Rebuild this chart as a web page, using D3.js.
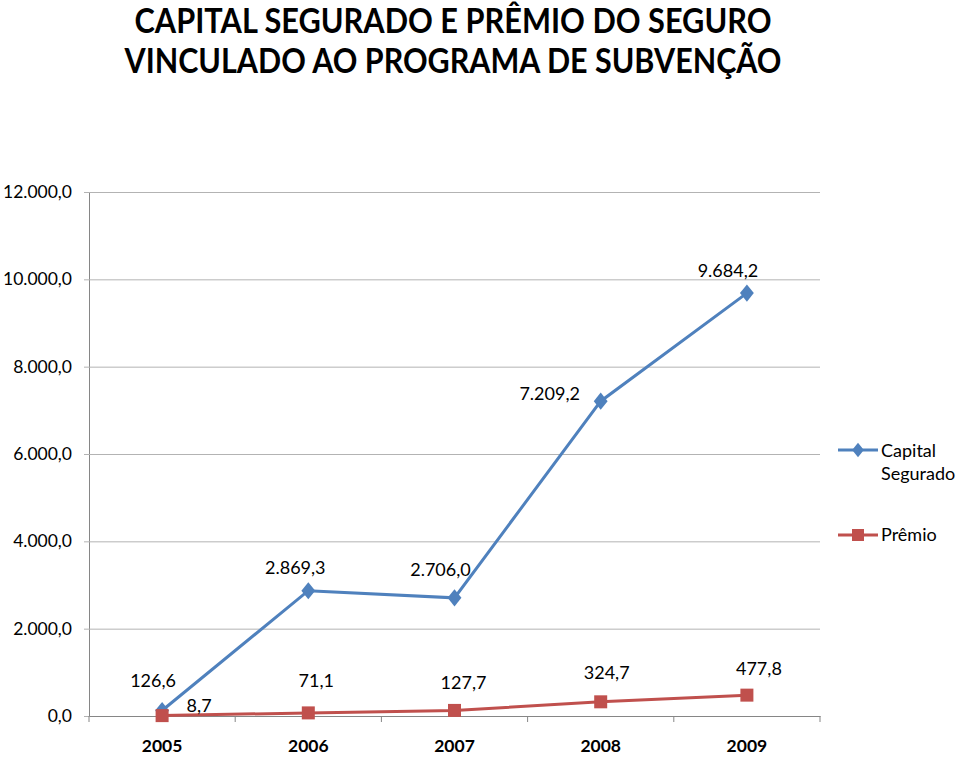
<!DOCTYPE html>
<html>
<head>
<meta charset="utf-8">
<script src="https://cdnjs.cloudflare.com/ajax/libs/d3/7.8.5/d3.min.js"></script>
<style>
  body { margin: 0; background: #fff; }
  text { font-family: Lato, "Open Sans", sans-serif; fill: #000; }
</style>
</head>
<body>
<div id="container"></div>
<script>
let years = ["2005", "2006", "2007", "2008", "2009"];
let capital = [126.6, 2869.3, 2706.0, 7209.2, 9684.2];
let premio = [8.7, 71.1, 127.7, 324.7, 477.8];
let yTicks = [0, 2000, 4000, 6000, 8000, 10000, 12000];
let seriesNames = ["Capital Segurado", "Prêmio"];

// label nudges (px) to mimic the hand-placed labels
let capOffsets = [[-9, -30], [-13, -23], [-14, -28], [-51, -7], [-19, -22]];
let premOffsets = [[37, -10], [8, -32], [9, -28], [6, -29], [12, -26]];

let W = 960, H = 757;
let M = { left: 89, right: 820, top: 192, bottom: 716 };
let BLUE = "#4F81BD", RED = "#C0504D";

let fmt = v => {
    let s = d3.format(",.1f")(v);
    return s.replace(/,/g, "#").replace(".", ",").replace(/#/g, ".");
};

let svg = d3.select("#container").append("svg")
    .attr("width", W).attr("height", H);

// title
let title = svg.append("text")
    .attr("text-anchor", "middle")
    .style("font-weight", "bold")
    .style("font-size", "34px");
title.append("tspan").attr("x", 453).attr("y", 33)
    .attr("textLength", 637).attr("lengthAdjust", "spacingAndGlyphs")
    .text("CAPITAL SEGURADO E PRÊMIO DO SEGURO");
title.append("tspan").attr("x", 453).attr("y", 73)
    .attr("textLength", 657).attr("lengthAdjust", "spacingAndGlyphs")
    .text("VINCULADO AO PROGRAMA DE SUBVENÇÃO");

let x = d3.scaleBand().domain(years).range([M.left, M.right]);
let y = d3.scaleLinear().domain([0, 12000]).range([M.bottom, M.top]);
let cx = d => x(d) + x.bandwidth() / 2;

// gridlines + y axis
let yAxis = d3.axisLeft(y).tickValues(yTicks).tickFormat(fmt)
    .tickSize(-(M.right - M.left)).tickSizeOuter(0).tickPadding(12);
let gy = svg.append("g").attr("transform", `translate(${M.left},0)`).call(yAxis);
gy.select(".domain").attr("stroke", "#868686");
gy.selectAll(".tick line").attr("stroke", "#B3B3B3").attr("x1", -5);
gy.selectAll(".tick text").style("font-size", "17.5px")
    .attr("fill", "#000").attr("x", -17);

// x axis
let xAxis = d3.axisBottom(x).tickSize(0).tickPadding(24);
let gx = svg.append("g").attr("transform", `translate(0,${M.bottom})`).call(xAxis);
gx.select(".domain").attr("stroke", "#868686");
gx.selectAll(".tick text").style("font-size", "17.5px").style("font-weight", "bold").attr("fill", "#000");
let bounds = years.map(d => x(d)).concat([M.right]);
svg.append("g").selectAll("line").data(bounds).join("line")
    .attr("x1", d => d).attr("x2", d => d)
    .attr("y1", M.bottom).attr("y2", M.bottom + 6)
    .attr("stroke", "#868686");

let line = d3.line().x((d, i) => cx(years[i])).y(d => y(d));

// series
svg.append("path").datum(capital).attr("d", line)
    .attr("fill", "none").attr("stroke", BLUE).attr("stroke-width", 3);
svg.append("path").datum(premio).attr("d", line)
    .attr("fill", "none").attr("stroke", RED).attr("stroke-width", 3);

let diamond = d3.symbol().type(d3.symbolDiamond).size(85);
svg.append("g").selectAll("path").data(capital).join("path")
    .attr("d", diamond)
    .attr("transform", (d, i) => `translate(${cx(years[i])},${y(d)}) scale(1.4,1)`)
    .attr("fill", BLUE);
svg.append("g").selectAll("rect").data(premio).join("rect")
    .attr("x", (d, i) => cx(years[i]) - 6.5).attr("y", d => y(d) - 6.5)
    .attr("width", 13).attr("height", 13).attr("fill", RED);

// data labels
svg.append("g").selectAll("text").data(capital).join("text")
    .attr("x", (d, i) => cx(years[i]) + capOffsets[i][0])
    .attr("y", (d, i) => y(d) + capOffsets[i][1])
    .attr("text-anchor", "middle").attr("dy", "0.35em")
    .style("font-size", "18px").text(fmt);
svg.append("g").selectAll("text").data(premio).join("text")
    .attr("x", (d, i) => cx(years[i]) + premOffsets[i][0])
    .attr("y", (d, i) => y(d) + premOffsets[i][1])
    .attr("text-anchor", "middle").attr("dy", "0.35em")
    .style("font-size", "18px").text(fmt);

// legend
let lg = svg.append("g");
lg.append("line").attr("x1", 838).attr("x2", 878).attr("y1", 450).attr("y2", 450)
    .attr("stroke", BLUE).attr("stroke-width", 3);
lg.append("path").attr("d", d3.symbol().type(d3.symbolDiamond).size(60))
    .attr("transform", "translate(858,450) scale(1.4,1)").attr("fill", BLUE);
let t1 = lg.append("text").style("font-size", "18px");
t1.append("tspan").attr("x", 881).attr("y", 457).text(seriesNames[0].split(" ")[0]);
t1.append("tspan").attr("x", 881).attr("y", 480).text(seriesNames[0].split(" ")[1]);
lg.append("line").attr("x1", 838).attr("x2", 878).attr("y1", 535).attr("y2", 535)
    .attr("stroke", RED).attr("stroke-width", 3);
lg.append("rect").attr("x", 852).attr("y", 529).attr("width", 12).attr("height", 12).attr("fill", RED);
lg.append("text").attr("x", 881).attr("y", 541).style("font-size", "18px").text(seriesNames[1]);
</script>
</body>
</html>
